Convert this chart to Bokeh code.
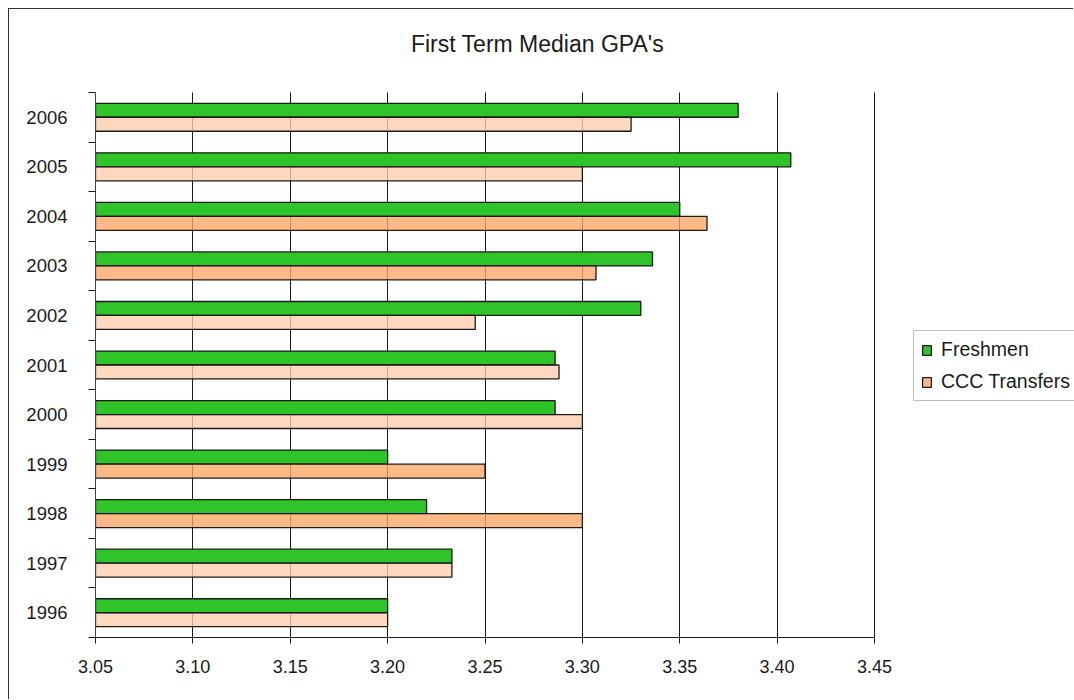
from bokeh.plotting import figure
from bokeh.models import (Range1d, FixedTicker, NumeralTickFormatter, Legend,
                          LegendItem, ColumnDataSource, Label)
from bokeh.embed import file_html
from bokeh.resources import INLINE

# ---- data ----
years = ["1996", "1997", "1998", "1999", "2000", "2001",
         "2002", "2003", "2004", "2005", "2006"]
freshmen = [3.200, 3.233, 3.220, 3.200, 3.286, 3.286,
            3.330, 3.336, 3.350, 3.407, 3.380]
ccc_transfers = [3.200, 3.233, 3.300, 3.250, 3.300, 3.288,
                 3.245, 3.307, 3.364, 3.300, 3.325]
ccc_shade = ["light", "light", "dark", "dark", "light", "light",
             "light", "dark", "dark", "light", "light"]
x_ticks = [3.05, 3.10, 3.15, 3.20, 3.25, 3.30, 3.35, 3.40, 3.45]
series_names = ["Freshmen", "CCC Transfers"]
title_text = "First Term Median GPA's"

# ---- layout (page pixels) ----
CANVAS_W, CANVAS_H = 1065, 691          # canvas starts at page (9, 9)
PLOT_L, PLOT_R, PLOT_T, PLOT_B = 95, 874, 92, 637   # the chart's plot area
CANVAS_X0, CANVAS_Y0 = 9, 9
TITLE_CX, TITLE_CY = 537, 43
LEGEND_L, LEGEND_B = 913, 401

# ---- styling ----
FONT = "Liberation Sans"
GREEN = "#2EC42A"
SHADES = {"light": "#FFCDAD", "dark": "#FFA565"}
EDGE = "#1a1a1a"
BAR_H = 0.282

idx = list(range(len(years)))
src_f = ColumnDataSource(dict(y=[i + BAR_H / 2 for i in idx], right=freshmen))
src_c = ColumnDataSource(dict(y=[i - BAR_H / 2 for i in idx], right=ccc_transfers,
                              color=[SHADES[s] for s in ccc_shade]))

# the frame covers the whole canvas right of / above the plot area so that the
# title and the legend can live inside it; axes and grid are bounded.
x0, x1 = x_ticks[0], x_ticks[-1]
y0, y1 = -0.5, len(years) - 0.5
px_x = (PLOT_R - PLOT_L) / (x1 - x0)
px_y = (PLOT_B - PLOT_T) / (y1 - y0)
x_end = x1 + (CANVAS_X0 + CANVAS_W - PLOT_R) / px_x
y_end = y1 + (PLOT_T - CANVAS_Y0) / px_y

p = figure(width=CANVAS_W, height=CANVAS_H,
           x_range=Range1d(x0, x_end), y_range=Range1d(y0, y_end),
           output_backend="svg", toolbar_location=None,
           min_border_left=PLOT_L - CANVAS_X0, min_border_right=0,
           min_border_top=0, min_border_bottom=CANVAS_Y0 + CANVAS_H - PLOT_B)
p.styles = {"margin-left": "8px", "margin-top": "8px",
            "border-left": "1px solid #333", "border-top": "1px solid #333"}
p.outline_line_color = None
p.background_fill_color = "white"
p.border_fill_color = "white"

rf = p.hbar(y="y", left=x0, right="right", height=BAR_H, source=src_f,
            fill_color=GREEN, line_color=EDGE, line_width=1.3)
rc = p.hbar(y="y", left=x0, right="right", height=BAR_H, source=src_c,
            fill_color="color", fill_alpha=0.78, line_color=EDGE, line_width=1.3)

# x axis
xt = FixedTicker(ticks=x_ticks, minor_ticks=[])
p.xaxis.ticker = xt
p.xaxis.bounds = (x0, x1)
p.xaxis.formatter = NumeralTickFormatter(format="0.00")
p.xaxis.axis_line_color = "#1a1a1a"
p.xaxis.major_tick_line_color = "#1a1a1a"
p.xaxis.major_tick_out = 6
p.xaxis.major_tick_in = 0
p.xaxis.minor_tick_line_color = None
p.xaxis.major_label_text_font = FONT
p.xaxis.major_label_text_font_size = "18px"
p.xaxis.major_label_text_color = "#1a1a1a"
p.xaxis.major_label_standoff = 16

# y axis: labels at category centres, tick marks at category boundaries
yt = FixedTicker(ticks=idx, minor_ticks=[i - 0.5 for i in range(len(years) + 1)])
p.yaxis.ticker = yt
p.yaxis.bounds = (y0, y1)
p.yaxis.major_label_overrides = {i: y for i, y in zip(idx, years)}
p.yaxis.axis_line_color = "#444"
p.yaxis.major_tick_line_color = None
p.yaxis.major_tick_out = 0
p.yaxis.major_tick_in = 0
p.yaxis.minor_tick_line_color = "#1a1a1a"
p.yaxis.minor_tick_out = 7
p.yaxis.minor_tick_in = 0
p.yaxis.major_label_text_font = FONT
p.yaxis.major_label_text_font_size = "18.5px"
p.yaxis.major_label_text_color = "#1a1a1a"
p.yaxis.major_label_standoff = 21

p.xgrid.ticker = xt
p.xgrid.cross_bounds = (y0, y1)
p.xgrid.grid_line_color = "#1a1a1a"
p.xgrid.grid_line_width = 1
p.ygrid.grid_line_color = None

# title
p.add_layout(Label(x=x0 + (TITLE_CX - PLOT_L) / px_x,
                   y=y0 + (PLOT_B - TITLE_CY) / px_y,
                   text=title_text, text_align="center", text_baseline="middle",
                   text_font=FONT, text_font_size="23px", text_color="#1a1a1a"))

legend = Legend(items=[LegendItem(label=series_names[0], renderers=[rf]),
                       LegendItem(label=series_names[1], renderers=[rc], index=2)],
                location=(LEGEND_L - PLOT_L, PLOT_B - LEGEND_B))
legend.label_text_font = FONT
legend.label_text_font_size = "19.5px"
legend.label_text_color = "#1a1a1a"
legend.glyph_width = 11
legend.glyph_height = 12
legend.label_standoff = 9
legend.label_height = 21
legend.spacing = 9
legend.padding = 7
legend.margin = 0
legend.border_line_color = "#808080"
legend.border_line_width = 1
legend.background_fill_color = "white"
legend.background_fill_alpha = 1
p.add_layout(legend, "center")

open("out.html", "w").write(file_html(p, INLINE))
